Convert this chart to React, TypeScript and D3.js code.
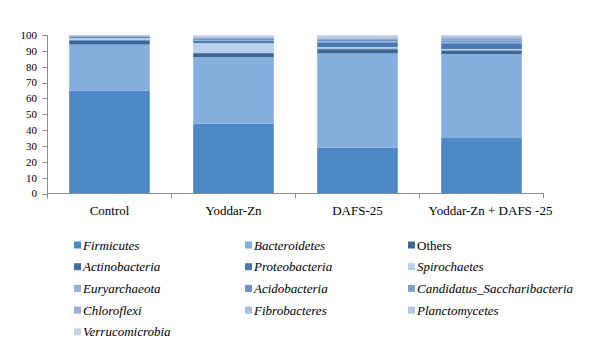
import React from "react";
import * as d3 from "d3";

const categories = ["Control", "Yoddar-Zn", "DAFS-25", "Yoddar-Zn + DAFS -25"];

// legend order (row-wise)
const legendSeries = [
  "Firmicutes", "Bacteroidetes", "Others",
  "Actinobacteria", "Proteobacteria", "Spirochaetes",
  "Euryarchaeota", "Acidobacteria", "Candidatus_Saccharibacteria",
  "Chloroflexi", "Fibrobacteres", "Planctomycetes",
  "Verrucomicrobia",
];

// stacking order, bottom to top
const stackOrder = [
  "Firmicutes", "Bacteroidetes", "Others", "Actinobacteria", "Spirochaetes",
  "Proteobacteria", "Euryarchaeota", "Acidobacteria", "Candidatus_Saccharibacteria",
  "Chloroflexi", "Fibrobacteres", "Planctomycetes", "Verrucomicrobia",
];

const Firmicutes = [65, 44, 29, 35];
const Bacteroidetes = [29, 42, 59.4, 53];
const Others = [2.5, 2.5, 2.6, 2.1];
const Actinobacteria = [0.3, 0.3, 0.5, 0.3];
const Spirochaetes = [1.3, 6.1, 0.9, 0.8];
const Proteobacteria = [0.6, 1.3, 3.0, 3.6];
const Euryarchaeota = [0.2, 0.6, 0.7, 0.8];
const Acidobacteria = [0.3, 0.8, 0.9, 1.0];
const Candidatus_Saccharibacteria = [0.2, 0.5, 0.7, 0.8];
const Chloroflexi = [0.2, 0.5, 0.6, 0.7];
const Fibrobacteres = [0.2, 0.5, 0.6, 0.7];
const Planctomycetes = [0.2, 0.5, 0.5, 0.6];
const Verrucomicrobia = [0.2, 0.4, 0.6, 0.6];

const yTicks = [0, 10, 20, 30, 40, 50, 60, 70, 80, 90, 100];

const seriesValues: Record<string, number[]> = {
  Firmicutes, Bacteroidetes, Others, Actinobacteria, Proteobacteria, Spirochaetes,
  Euryarchaeota, Acidobacteria, Candidatus_Saccharibacteria, Chloroflexi,
  Fibrobacteres, Planctomycetes, Verrucomicrobia,
};

const colors: Record<string, string> = {
  Firmicutes: "#4f88c6",
  Bacteroidetes: "#83aedd",
  Others: "#3b6797",
  Actinobacteria: "#3f6d9f",
  Proteobacteria: "#4878b1",
  Spirochaetes: "#b8d0ec",
  Euryarchaeota: "#8db1da",
  Acidobacteria: "#6e92c1",
  Candidatus_Saccharibacteria: "#7f9dc6",
  Chloroflexi: "#97b0d6",
  Fibrobacteres: "#a8bcdc",
  Planctomycetes: "#b5c5de",
  Verrucomicrobia: "#c6d1e6",
};

const font = "Liberation Serif, Times New Roman, Times, DejaVu Serif, serif";

export default function App() {
  const W = 589, H = 357;
  const left = 47.5, right = 543.5, top = 35, bottom = 193.5;
  const x = d3.scaleBand().domain(categories).range([left, right]).paddingInner(0.35).paddingOuter(0.175);
  const y = d3.scaleLinear().domain([0, 100]).range([bottom, top]);

  const table = categories.map((c, i) => {
    const row: any = { cat: c };
    stackOrder.forEach((s) => (row[s] = seriesValues[s][i]));
    return row;
  });
  const stacked = d3.stack().keys(stackOrder)(table);

  const boundaries = d3.range(categories.length + 1).map((i) => left + (i * (right - left)) / categories.length);

  const legendX = [74, 245, 408];
  const legendY0 = 245, legendDy = 21.7;

  return (
    <svg width={W} height={H} style={{ position: "absolute", left: 0, top: 0, background: "#fff", fontFamily: font }}>
      {stacked.map((layer) => (
        <g key={layer.key} fill={colors[layer.key]}>
          {layer.map((d, i) => (
            <rect
              key={i}
              x={x(categories[i])!}
              width={x.bandwidth()}
              y={y(d[1])}
              height={Math.max(0, y(d[0]) - y(d[1]))}
            />
          ))}
        </g>
      ))}
      <line x1={left} x2={left} y1={top} y2={bottom} stroke="#8c8c8c" />
      <line x1={left} x2={right} y1={bottom} y2={bottom} stroke="#8c8c8c" />
      {yTicks.map((t) => (
        <g key={t}>
          <line x1={left - 5} x2={left} y1={Math.round(y(t)) + 0.5} y2={Math.round(y(t)) + 0.5} stroke="#8c8c8c" />
          <text x={37} y={y(t)} dy="0.35em" textAnchor="end" fontSize={11} fill="#000">
            {t}
          </text>
        </g>
      ))}
      {boundaries.map((b, i) => (
        <line key={i} x1={b} x2={b} y1={bottom} y2={bottom + 5} stroke="#8c8c8c" />
      ))}
      {categories.map((c, i) => (
        <text
          key={c}
          x={x(c)! + x.bandwidth() / 2}
          dx={i === categories.length - 1 ? 9 : 0}
          y={215}
          textAnchor="middle"
          fontSize={13}
          fill="#000"
        >
          {c}
        </text>
      ))}
      {legendSeries.map((s, i) => {
        const col = i % 3, row = Math.floor(i / 3);
        const lx = legendX[col], ly = legendY0 + row * legendDy;
        return (
          <g key={s}>
            <rect x={lx} y={ly - 3.5} width={7} height={7} fill={colors[s]} />
            <text x={lx + 9} y={ly} dy="0.35em" fontSize={13} fontStyle={s === "Others" ? "normal" : "italic"} fill="#000">
              {s}
            </text>
          </g>
        );
      })}
    </svg>
  );
}
